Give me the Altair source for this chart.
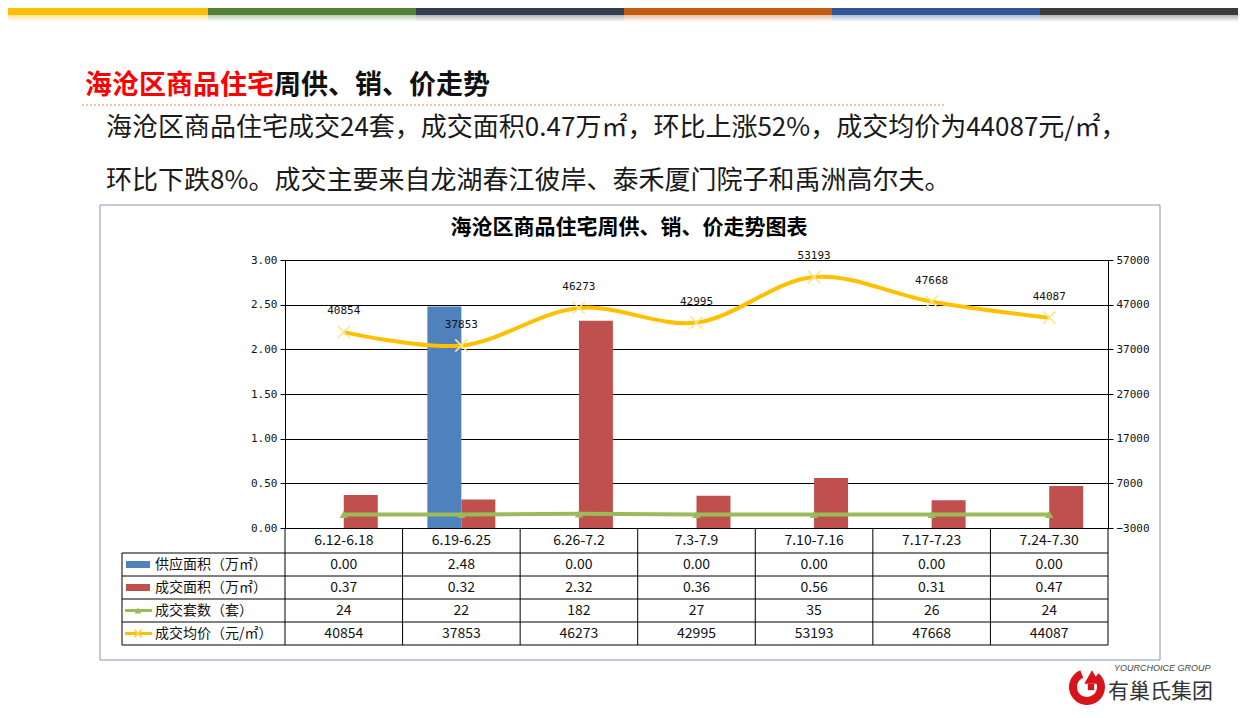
import altair as alt
import pandas as pd

# ---------------- data ----------------
weeks = ["6.12-6.18", "6.19-6.25", "6.26-7.2", "7.3-7.9", "7.10-7.16", "7.17-7.23", "7.24-7.30"]
supply_area = [0.00, 2.48, 0.00, 0.00, 0.00, 0.00, 0.00]
sales_area = [0.37, 0.32, 2.32, 0.36, 0.56, 0.31, 0.47]
sales_units = [24, 22, 182, 27, 35, 26, 24]
avg_price = [40854, 37853, 46273, 42995, 53193, 47668, 44087]
bar_series = ["供应面积", "成交面积"]
row_labels = ["供应面积（万㎡）", "成交面积（万㎡）", "成交套数（套）", "成交均价（元/㎡）"]
left_ticks = [0, 0.5, 1, 1.5, 2, 2.5, 3]
right_ticks = [-3000, 7000, 17000, 27000, 37000, 47000, 57000]
page_title_red = "海沧区商品住宅"
page_title_black = "周供、销、价走势"
summary_lines = [
    "海沧区商品住宅成交24套，成交面积0.47万㎡，环比上涨52%，成交均价为44087元/㎡，",
    "环比下跌8%。成交主要来自龙湖春江彼岸、泰禾厦门院子和禹洲高尔夫。",
]
chart_title = "海沧区商品住宅周供、销、价走势图表"
logo_en = "YOURCHOICE GROUP"
logo_cn = "有巢氏集团"
strip_colors = ["#FFC000", "#538135", "#333F50", "#C55A11", "#2F5597", "#3A3A3A"]

# ---------------- layout ----------------
X0, Y0 = 285, 260          # plot origin on the page
W, H = 823, 268            # plot area
def px(x):
    return x - X0
def py(y):
    return y - Y0

strip_bounds = [8, 208, 416, 624, 832, 1040, 1239]
row_edges = [528, 553, 576, 599, 622, 645]
row_centers = [(row_edges[i] + row_edges[i + 1]) / 2 for i in range(5)]
TABLE_LEFT = 122

C_BLUE, C_RED, C_GREEN, C_GOLD = "#4F81BD", "#C0504D", "#9BBB59", "#FFC000"
CJK = "Noto Sans CJK SC"
MONO = "DejaVu Sans Mono"

df = pd.DataFrame({
    "week": weeks, "supply": supply_area, "sales": sales_area,
    "units": sales_units, "price": avg_price,
})
bars_df = pd.DataFrame({
    "week": weeks * 2,
    "series": [bar_series[0]] * len(weeks) + [bar_series[1]] * len(weeks),
    "value": supply_area + sales_area,
})
one = pd.DataFrame({"k": [0]})

x_scale = alt.Scale(domain=weeks, paddingInner=0, paddingOuter=0)
x_enc = alt.X("week:N", sort=weeks, scale=x_scale, axis=None)
right_scale = alt.Scale(domain=[-3000, 57000], nice=False, zero=False)

layers = []

# ---- decorations: header strips ----
strips_df = pd.DataFrame({"x": strip_bounds[:-1], "x2": strip_bounds[1:], "c": strip_colors})
strips_df["x"] = strips_df["x"] - X0
strips_df["x2"] = strips_df["x2"] - X0
layers.append(alt.Chart(strips_df).mark_rect().encode(
    x=alt.X("x:Q", scale=None, axis=None), x2="x2:Q",
    y=alt.value(py(8)), y2=alt.value(py(15)),
    color=alt.Color("c:N", scale=None)))
for i, c in enumerate(strip_colors):
    layers.append(alt.Chart(one).mark_rect(
        color={"gradient": "linear", "x1": 0, "x2": 0, "y1": 0, "y2": 1,
               "stops": [{"offset": 0, "color": c}, {"offset": 1, "color": "#ffffff"}]},
        opacity=0.4).encode(
        x=alt.value(px(strip_bounds[i])), x2=alt.value(px(strip_bounds[i + 1])),
        y=alt.value(py(15)), y2=alt.value(py(22))))

# ---- page title, dotted rule, summary ----
layers.append(alt.Chart(pd.DataFrame({"t": [page_title_red]})).mark_text(
    align="left", baseline="middle", font=CJK, fontSize=27, fontWeight="bold", color="#FF0000").encode(
    text="t:N", x=alt.value(px(85)), y=alt.value(py(86))))
layers.append(alt.Chart(pd.DataFrame({"t": [page_title_black]})).mark_text(
    align="left", baseline="middle", font=CJK, fontSize=27, fontWeight="bold", color="#111111").encode(
    text="t:N", x=alt.value(px(85 + 27 * len(page_title_red))), y=alt.value(py(86))))
layers.append(alt.Chart(one).mark_rule(color="#F4B183", strokeDash=[2, 2], strokeWidth=1.3).encode(
    x=alt.value(px(82)), x2=alt.value(px(946)), y=alt.value(py(105))))
for i, line in enumerate(summary_lines):
    layers.append(alt.Chart(pd.DataFrame({"t": [line]})).mark_text(
        align="left", baseline="middle", font=CJK, fontSize=26, color="#1A1A1A").encode(
        text="t:N", x=alt.value(px(106)), y=alt.value(py([128, 181][i]))))

# ---- chart frame & title ----
layers.append(alt.Chart(one).mark_rect(fillOpacity=0, stroke="#8497B0", strokeWidth=1).encode(
    x=alt.value(px(100)), x2=alt.value(px(1160)), y=alt.value(py(205)), y2=alt.value(py(660))))
layers.append(alt.Chart(pd.DataFrame({"t": [chart_title]})).mark_text(
    align="center", baseline="middle", font=CJK, fontSize=21, fontWeight="bold", color="#000000").encode(
    text="t:N", x=alt.value(px(629)), y=alt.value(py(228))))

# ---- bars (left axis) ----
layers.append(alt.Chart(bars_df).mark_bar().encode(
    x=x_enc,
    xOffset=alt.XOffset("series:N", sort=bar_series,
                        scale=alt.Scale(domain=bar_series, paddingInner=0, paddingOuter=0.73)),
    y=alt.Y("value:Q", scale=alt.Scale(domain=[0, 3], nice=False, zero=False),
            axis=alt.Axis(orient="left", values=left_ticks, format=".2f", title=None,
                          grid=True, gridColor="#000000", gridOpacity=1, gridWidth=1,
                          domainColor="#000000", tickColor="#000000", tickSize=5,
                          labelFont=MONO, labelFontSize=11, labelColor="#111111", labelPadding=3)),
    color=alt.Color("series:N", scale=alt.Scale(domain=bar_series, range=[C_BLUE, C_RED]), legend=None),
))

# ---- lines (right axis) ----
layers.append(alt.Chart(df).mark_line(interpolate="catmull-rom", strokeWidth=4, color=C_GOLD).encode(
    x=x_enc,
    y=alt.Y("price:Q", scale=right_scale,
            axis=alt.Axis(orient="right", values=right_ticks, format="d", title=None, grid=False,
                          domainColor="#000000", tickColor="#000000", tickSize=5,
                          labelFont=MONO, labelFontSize=11, labelColor="#111111", labelPadding=3))))
layers.append(alt.Chart(df).mark_point(shape="M-1,-1L1,1M-1,1L1,-1", size=150, filled=False,
                                       stroke="#FFE38A", strokeWidth=1.5, opacity=1).encode(
    x=x_enc, y=alt.Y("price:Q", scale=right_scale, axis=None)))
layers.append(alt.Chart(df).mark_text(dy=-21, font=MONO, fontSize=11, color="#111111").encode(
    x=x_enc, y=alt.Y("price:Q", scale=right_scale, axis=None), text=alt.Text("price:Q", format="d")))
layers.append(alt.Chart(df).mark_line(strokeWidth=4, color=C_GREEN).encode(
    x=x_enc, y=alt.Y("units:Q", scale=right_scale, axis=None)))
layers.append(alt.Chart(df).mark_point(shape="triangle-up", size=70, filled=True, color=C_GREEN, opacity=1).encode(
    x=x_enc, y=alt.Y("units:Q", scale=right_scale, axis=None)))

# ---- data table ----
hl = pd.DataFrame({"y": [e - Y0 for e in row_edges[1:]]})
layers.append(alt.Chart(hl).mark_rule(color="#000000", strokeWidth=1).encode(
    y=alt.Y("y:Q", scale=None, axis=None), x=alt.value(px(TABLE_LEFT)), x2=alt.value(W)))
layers.append(alt.Chart(pd.DataFrame({"week": weeks[1:]})).mark_rule(color="#000000", strokeWidth=1).encode(
    x=alt.X("week:N", sort=weeks, scale=x_scale, axis=None, bandPosition=0),
    y=alt.value(H), y2=alt.value(py(row_edges[-1]))))
layers.append(alt.Chart(one).mark_rule(color="#000000", strokeWidth=1).encode(
    x=alt.value(0), y=alt.value(H), y2=alt.value(py(row_edges[-1]))))
layers.append(alt.Chart(one).mark_rule(color="#000000", strokeWidth=1).encode(
    x=alt.value(W), y=alt.value(H), y2=alt.value(py(row_edges[-1]))))
layers.append(alt.Chart(one).mark_rule(color="#000000", strokeWidth=1).encode(
    x=alt.value(px(TABLE_LEFT)), y=alt.value(py(row_edges[1])), y2=alt.value(py(row_edges[-1]))))

cell_font = dict(font=CJK, fontSize=14, color="#111111", baseline="middle", align="center")
layers.append(alt.Chart(df).mark_text(**cell_font).encode(
    x=x_enc, y=alt.value(py(row_centers[0])), text="week:N"))
for r, (field, fmt) in enumerate([("supply", ".2f"), ("sales", ".2f"), ("units", "d"), ("price", "d")]):
    layers.append(alt.Chart(df).mark_text(**cell_font).encode(
        x=x_enc, y=alt.value(py(row_centers[r + 1])), text=alt.Text(f"{field}:Q", format=fmt)))

for r, lab in enumerate(row_labels):
    layers.append(alt.Chart(pd.DataFrame({"t": [lab]})).mark_text(
        font=CJK, fontSize=14, color="#111111", baseline="middle", align="left").encode(
        text="t:N", x=alt.value(px(155)), y=alt.value(py(row_centers[r + 1]))))

# legend keys in the table
layers.append(alt.Chart(one).mark_rect(color=C_BLUE).encode(
    x=alt.value(px(126)), x2=alt.value(px(150)),
    y=alt.value(py(row_centers[1]) - 3.5), y2=alt.value(py(row_centers[1]) + 3.5)))
layers.append(alt.Chart(one).mark_rect(color=C_RED).encode(
    x=alt.value(px(126)), x2=alt.value(px(150)),
    y=alt.value(py(row_centers[2]) - 3.5), y2=alt.value(py(row_centers[2]) + 3.5)))
layers.append(alt.Chart(one).mark_rule(color=C_GREEN, strokeWidth=3).encode(
    x=alt.value(px(125)), x2=alt.value(px(152)), y=alt.value(py(row_centers[3]))))
layers.append(alt.Chart(one).mark_point(shape="triangle-up", size=45, filled=True, color=C_GREEN, opacity=1).encode(
    x=alt.value(px(138)), y=alt.value(py(row_centers[3]))))
layers.append(alt.Chart(one).mark_rule(color=C_GOLD, strokeWidth=3).encode(
    x=alt.value(px(125)), x2=alt.value(px(152)), y=alt.value(py(row_centers[4]))))
layers.append(alt.Chart(one).mark_point(shape="M-1,-1L1,1M-1,1L1,-1", size=60, filled=False,
                                        stroke="#FFD24D", strokeWidth=1.5, opacity=1).encode(
    x=alt.value(px(138)), y=alt.value(py(row_centers[4]))))

# ---- logo ----
layers.append(alt.Chart(one).mark_arc(color="#D7141A", radius=18, radius2=10, theta=0.7, theta2=5.9).encode(
    x=alt.value(px(1087)), y=alt.value(py(687))))
layers.append(alt.Chart(one).mark_point(shape="triangle-up", size=240, filled=True, color="#D7141A", opacity=1).encode(
    x=alt.value(px(1092)), y=alt.value(py(677))))
layers.append(alt.Chart(one).mark_point(shape="square", size=40, filled=True, color="#D7141A", opacity=1).encode(
    x=alt.value(px(1091)), y=alt.value(py(687))))
layers.append(alt.Chart(pd.DataFrame({"t": [logo_en]})).mark_text(
    align="left", baseline="middle", font="Liberation Sans", fontSize=9, fontStyle="italic", color="#444444").encode(
    text="t:N", x=alt.value(px(1114)), y=alt.value(py(668))))
layers.append(alt.Chart(pd.DataFrame({"t": [logo_cn]})).mark_text(
    align="left", baseline="middle", font=CJK, fontSize=21, color="#333333").encode(
    text="t:N", x=alt.value(px(1108)), y=alt.value(py(692))))

chart = alt.layer(*layers).resolve_scale(y="independent").properties(
    width=W, height=H, autosize="none",
    padding={"left": X0 - 8, "top": Y0 - 8, "right": 130, "bottom": 180},
).configure_view(stroke=None).configure(background="#FFFFFF")

chart.save("out.html", embed_options={"renderer": "svg", "actions": False})
